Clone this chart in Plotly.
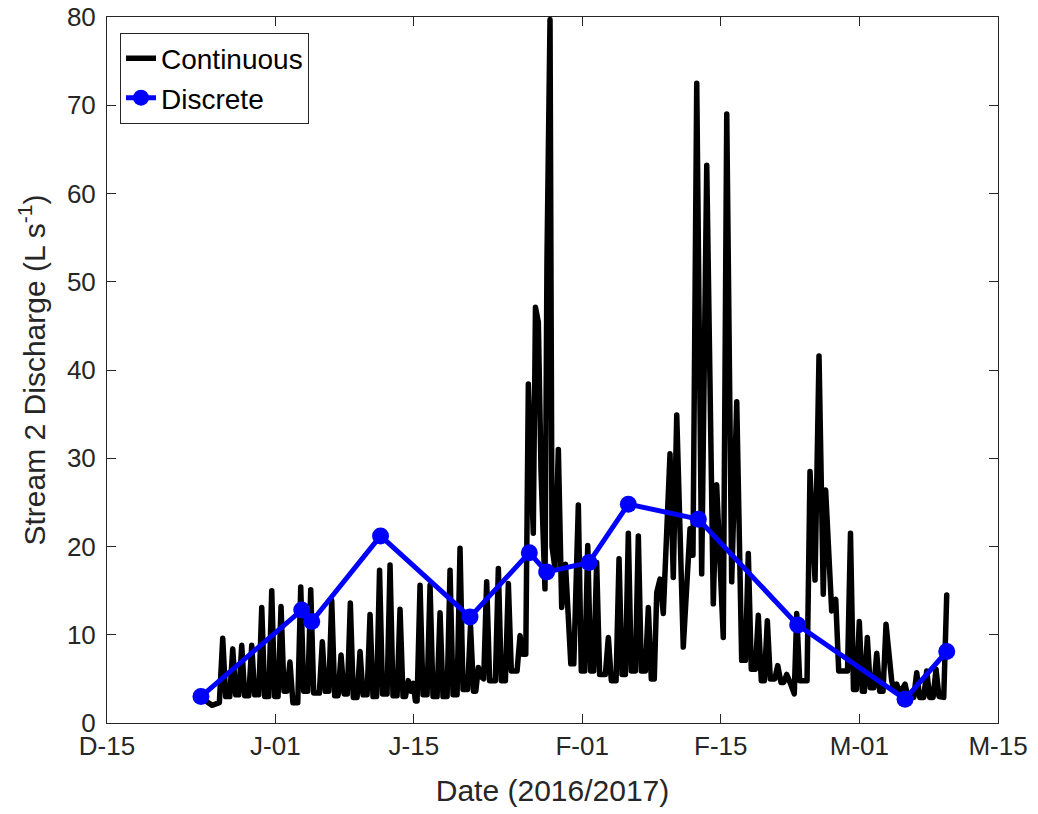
import pandas as pd
import plotly.graph_objects as go

# Continuous record: days since 2016-12-15 00:00 and discharge (L/s)
cont_day = [
    10.10, 10.60, 11.35, 11.69, 11.99, 12.40, 12.70, 13.00, 13.31, 13.61,
    13.91, 14.32, 14.62, 14.92, 15.33, 15.63, 15.93, 16.34, 16.64, 16.94,
    17.28, 17.58, 17.88, 18.18, 18.48, 18.78, 19.27, 19.57, 19.87, 20.28,
    20.58, 20.88, 21.45, 21.75, 22.05, 22.40, 22.70, 23.00, 23.34, 23.64,
    23.94, 24.28, 24.58, 24.88, 25.26, 25.56, 25.86, 26.27, 26.57, 26.87,
    27.23, 27.53, 27.83, 28.29, 28.59, 28.89, 29.30, 29.60, 29.90, 30.15,
    30.43, 30.70, 30.94, 31.15, 31.32, 31.62, 31.92, 32.33, 32.63, 32.93,
    33.34, 33.64, 33.94, 34.35, 34.65, 34.95, 35.36, 35.66, 35.96, 36.42,
    36.72, 37.02, 37.25, 37.51, 37.83, 38.05, 38.35, 38.65, 39.23, 39.53,
    39.83, 40.24, 40.54, 40.84, 41.42, 41.72, 42.00, 42.30,
    42.56, 43.06, 43.28, 43.57, 43.84, 44.04, 44.24, 44.44, 44.75, 44.95,
    45.25, 45.59, 45.93, 46.31, 46.57, 46.85, 47.15,
    47.61, 47.91, 48.26, 48.56, 48.86, 49.16, 49.46, 49.76, 50.34, 50.64,
    50.94, 51.42, 51.72, 52.02, 52.36, 52.66, 52.96, 53.37, 53.67, 53.97,
    54.38, 54.68, 54.98, 55.28, 55.53, 55.86, 56.19,
    56.87, 57.20, 57.55, 58.21, 58.89, 59.19, 59.57, 60.07, 60.58, 61.24,
    61.58, 62.25, 62.60, 63.10, 63.61, 64.11,
    64.48, 64.78, 65.08, 65.49, 65.79, 66.09, 66.40, 66.70, 67.00, 67.45,
    67.75, 68.08, 68.36, 68.66, 68.99, 69.42, 69.67, 69.97, 70.71,
    71.01, 71.52, 71.92, 72.35, 72.59, 73.20, 73.61, 73.91, 74.80,
    75.10, 75.40, 75.69, 75.99, 76.29, 76.50, 76.80, 77.10, 77.45, 77.75,
    78.05, 78.39, 78.69, 79.26, 79.49, 79.77, 80.10, 80.61, 80.91, 81.49,
    81.79, 82.09, 82.50, 82.80, 83.10, 83.44, 83.74, 84.04, 84.52, 84.82,
]
cont_q = [
    2.4, 2.0, 2.3, 9.6, 3.0, 3.0, 8.4, 3.2, 3.2, 8.8,
    3.1, 3.1, 8.8, 3.2, 3.2, 13.1, 3.0, 3.0, 15.0, 3.0,
    3.0, 13.2, 3.6, 3.6, 6.9, 2.3, 2.3, 15.4, 3.6, 3.6,
    15.1, 3.4, 3.4, 9.2, 3.6, 3.6, 13.9, 3.1, 3.1, 7.7,
    3.3, 3.3, 13.6, 2.9, 2.9, 8.1, 3.2, 3.2, 12.3, 3.0,
    3.0, 17.3, 3.3, 3.3, 17.9, 3.1, 3.1, 12.9, 3.0, 3.0,
    4.8, 3.6, 4.5, 2.5, 2.5, 15.6, 3.2, 3.2, 15.6, 3.0,
    3.0, 12.5, 3.0, 3.0, 17.3, 3.2, 3.2, 19.8, 3.8, 3.8,
    11.0, 3.6, 3.6, 6.3, 5.2, 5.0, 16.0, 4.8, 4.8, 17.5,
    4.8, 4.8, 15.8, 5.9, 5.9, 9.9, 7.8, 7.8,
    38.4, 21.5, 47.1, 45.4, 28.5, 20.0, 15.2, 52.3, 79.7, 20.0,
    17.5, 31.0, 13.1, 18.0, 13.5, 6.7, 6.7,
    24.7, 5.9, 5.9, 20.1, 5.9, 5.9, 18.2, 5.5, 5.5, 9.7,
    4.8, 4.8, 18.6, 5.5, 5.5, 21.5, 5.9, 5.9, 21.2, 5.9,
    5.9, 13.1, 5.0, 5.0, 14.8, 16.3, 12.4,
    30.5, 16.5, 34.9, 8.6, 22.0, 19.0, 72.5, 16.9, 63.2, 13.5,
    27.0, 9.7, 69.0, 16.0, 36.4, 7.1,
    7.1, 19.2, 6.1, 6.1, 12.2, 4.8, 4.8, 11.6, 5.0, 5.0,
    6.5, 4.6, 4.6, 5.5, 4.6, 3.3, 12.4, 4.8, 4.8,
    28.5, 16.2, 41.6, 14.6, 26.4, 12.7, 14.0, 5.9, 5.9,
    21.5, 3.8, 3.8, 11.5, 3.6, 3.6, 9.7, 4.0, 4.0, 7.9,
    3.6, 3.6, 11.2, 4.8, 3.8, 4.4, 3.4, 4.4, 2.9, 2.9,
    5.7, 2.9, 2.9, 5.9, 2.9, 2.9, 6.1, 3.0, 2.9, 14.5,
]

# Discrete grab samples
disc_day = [9.49, 19.67, 20.68, 27.63, 36.67, 42.66, 44.41, 48.69,
            52.66, 59.73, 69.77, 80.61, 84.82]
disc_q = [3.0, 12.8, 11.5, 21.2, 12.0, 19.3, 17.1, 18.2,
          24.8, 23.1, 11.1, 2.7, 8.1]

tick_dates = ["2016-12-15", "2017-01-01", "2017-01-15", "2017-02-01",
              "2017-02-15", "2017-03-01", "2017-03-15"]
tick_text = ["D-15", "J-01", "J-15", "F-01", "F-15", "M-01", "M-15"]

origin = pd.Timestamp("2016-12-15")
cont_t = origin + pd.to_timedelta(cont_day, unit="D")
disc_t = origin + pd.to_timedelta(disc_day, unit="D")

axis_col = "#262626"
font_family = "Liberation Sans, Arial, sans-serif"

fig = go.Figure()
fig.add_trace(go.Scatter(
    x=cont_t, y=cont_q, mode="lines", name="Continuous",
    line=dict(color="black", width=5.5),
))
fig.add_trace(go.Scatter(
    x=disc_t, y=disc_q, mode="lines+markers", name="Discrete",
    line=dict(color="#0000ff", width=5),
    marker=dict(color="#0000ff", size=17),
))

common_axis = dict(
    showline=True, linecolor=axis_col, linewidth=1, mirror="ticks",
    ticks="inside", ticklen=9, tickcolor=axis_col, tickwidth=1,
    showgrid=False, zeroline=False, automargin=False,
    tickfont=dict(family=font_family, size=26, color=axis_col),
)

fig.update_layout(
    width=1038, height=814,
    margin=dict(l=107, r=40, t=17, b=91),
    paper_bgcolor="white", plot_bgcolor="white",
    font=dict(family=font_family, color=axis_col),
    xaxis=dict(
        type="date",
        range=[tick_dates[0], tick_dates[-1]],
        tickmode="array", tickvals=tick_dates, ticktext=tick_text,
        title=dict(text="Date (2016/2017)", font=dict(size=30, color=axis_col),
                   standoff=19),
        **common_axis,
    ),
    yaxis=dict(
        range=[0, 80], tickmode="array", tickvals=list(range(0, 81, 10)),
        ticklabelstandoff=5,
        title=dict(text="Stream 2 Discharge (L s<sup>-1</sup>)",
                   font=dict(size=30, color=axis_col), standoff=12),
        **common_axis,
    ),
    legend=dict(
        x=0.0146, y=0.978, xanchor="left", yanchor="top",
        bgcolor="white", bordercolor=axis_col, borderwidth=1,
        font=dict(family=font_family, size=28, color="black"),
        itemwidth=30, tracegroupgap=0,
    ),
    showlegend=True,
)

fig.write_html(
    "out.html",
    post_script="document.querySelectorAll('.scatterlayer path.js-line')"
                ".forEach(function(p){p.style.strokeLinejoin='round';"
                "p.style.strokeLinecap='round';});",
)
